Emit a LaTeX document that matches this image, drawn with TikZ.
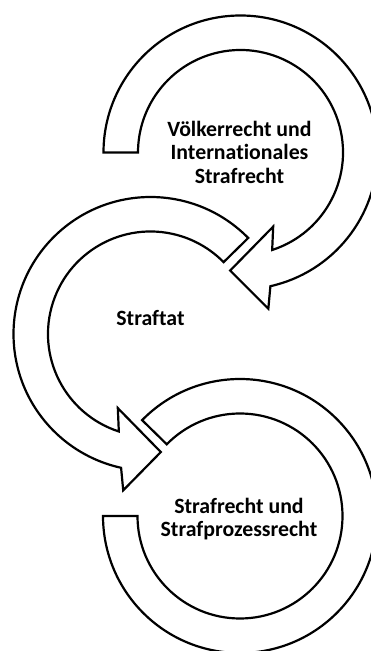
\documentclass[tikz,border=0pt]{standalone}
\usepackage{fontspec}
\setmainfont[Ligatures=NoCommon]{Carlito}
\begin{document}
\begin{tikzpicture}[x=1pt,y=1pt,
  band/.style={draw=black, line width=2.2pt, fill=white, line join=miter},
  boxtext/.style={font=\bfseries\fontsize{21.8}{23.5}\selectfont, align=center, text=black, inner sep=0pt}]
\useasboundingbox (0,0) rectangle (370,651);
% centres of the three circular arrows
\coordinate (c1) at (240.5,498.5);
\coordinate (c2) at (150.5,317);
\coordinate (c3) at (240,135);
% top arrow: clockwise from the left, head near the bottom
\draw[band, shift={(c1)}] (180:137pt) arc[start angle=180, end angle=-77.4, radius=137pt]
  -- (-79.9:158.7pt) -- (-95:118.5pt) -- (-66.2:81pt) -- (-72:102.5pt)
  arc[start angle=-72, end angle=180, radius=102.5pt] -- cycle;
% middle arrow: counter-clockwise from the upper right, head near the bottom
\draw[band, shift={(c2)}] (44.5:137pt) arc[start angle=44.5, end angle=257.6, radius=137pt]
  -- (260.1:158.7pt) -- (275:118.5pt) -- (246.2:81pt) -- (252:102.5pt)
  arc[start angle=252, end angle=44.5, radius=102.5pt] -- cycle;
% bottom band: clockwise from the upper left, flat end on the left
\draw[band, shift={(c3)}] (135.6:137pt) arc[start angle=135.6, end angle=-180, radius=137pt]
  -- (-180:102.5pt) arc[start angle=-180, end angle=135.6, radius=102.5pt] -- cycle;
% texts
\node[boxtext] (t1) at (239.5,499) {Völkerrecht und\\Internationales\\Strafrecht};
\node[boxtext] (t2) at (150.5,333) {Straftat};
\node[boxtext] (t3) at (239,132) {Strafrecht und\\Strafprozessrecht};
\end{tikzpicture}
\end{document}
